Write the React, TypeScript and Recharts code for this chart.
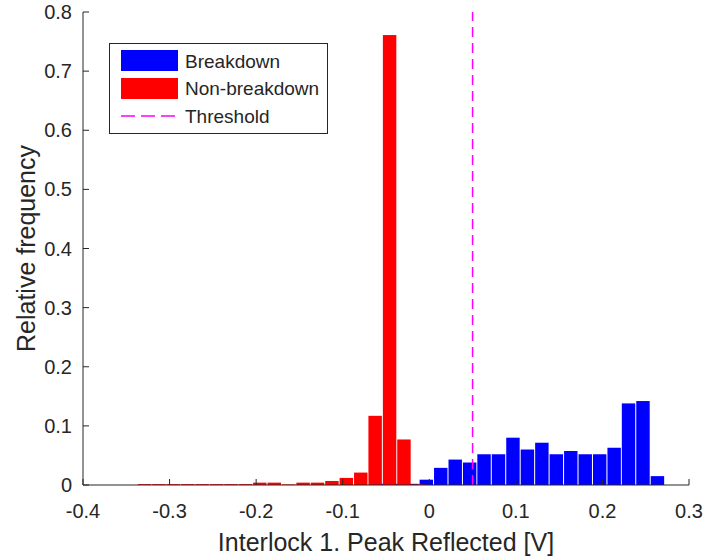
import { ComposedChart, Bar, XAxis, YAxis, ReferenceLine, Legend, Label } from "recharts";

const FONT = '"Liberation Sans", Arial, Helvetica, sans-serif';
const INK = "#262626";
const BLUE = "#0000ff";
const RED = "#ff0000";
const MAGENTA = "#ff00ff";

// axis ticks
const X_TICKS = [-0.4, -0.3, -0.2, -0.1, 0, 0.1, 0.2, 0.3];
const Y_TICKS = [0, 0.1, 0.2, 0.3, 0.4, 0.5, 0.6, 0.7, 0.8];

// histogram bin centres and relative frequencies
const nonBreakdownCenters = [
  -0.3288, -0.3121, -0.2955, -0.2788, -0.2622, -0.2455, -0.2289, -0.2122, -0.1956, -0.1789,
  -0.1623, -0.1456, -0.129, -0.1123, -0.0957, -0.079, -0.0624, -0.0457, -0.0291, -0.0124,
];
const nonBreakdownFreq = [
  0.0015, 0.0015, 0.0015, 0.0015, 0.0015, 0.0015, 0.0015, 0.0015, 0.004, 0.004,
  0.001, 0.004, 0.004, 0.0068, 0.012, 0.021, 0.117, 0.761, 0.077, 0.001,
];

const breakdownCenters = [
  -0.0534, -0.0367, -0.02, -0.0033, 0.0134, 0.0301, 0.0468, 0.0634, 0.0801, 0.0968,
  0.1135, 0.1302, 0.1469, 0.1636, 0.1803, 0.197, 0.2137, 0.2303, 0.247, 0.2637,
];
const breakdownFreq = [
  0.002, 0.002, 0.002, 0.009, 0.029, 0.043, 0.038, 0.052, 0.052, 0.08,
  0.06, 0.0715, 0.052, 0.0575, 0.052, 0.052, 0.063, 0.138, 0.142, 0.015,
];

const THRESHOLD = 0.05;
const BIN_WIDTH = 0.01667;
const SERIES_NAMES = ["Breakdown", "Non-breakdown", "Threshold"];

// layout
const W = 707;
const H = 560;
const LEFT = 83;
const RIGHT = 18;
const TOP = 12;
const BOTTOM = 75;
const X_MIN = -0.4;
const X_MAX = 0.3;
const BIN_PX = (BIN_WIDTH / (X_MAX - X_MIN)) * (W - LEFT - RIGHT);
const LABEL_SIZE = 25;

const rows = [
  ...breakdownCenters.map((x, i) => ({ x, breakdown: breakdownFreq[i] })),
  ...nonBreakdownCenters.map((x, i) => ({ x, nonBreakdown: nonBreakdownFreq[i] })),
].sort((a, b) => a.x - b.x);

function HistBar(props: any) {
  const { x, y, width, height, fill } = props;
  if (!height || height <= 0 || !isFinite(x) || !isFinite(y)) return <g />;
  const cx = x + width / 2;
  return (
    <rect
      x={cx - BIN_PX / 2 + 0.5}
      y={y}
      width={BIN_PX - 1}
      height={height}
      fill={fill}
    />
  );
}

function LegendBox() {
  return (
    <svg width={219} height={91} style={{ display: "block" }}>
      <rect x={0.5} y={0.5} width={218} height={90} fill="#fff" stroke={INK} strokeWidth={1} />
      <rect x={12} y={7} width={57} height={21} fill={BLUE} />
      <rect x={12} y={35} width={57} height={21} fill={RED} />
      <line x1={12} x2={69} y1={73} y2={73} stroke={MAGENTA} strokeWidth={1.5} strokeDasharray="14 6" />
      {SERIES_NAMES.map((n, i) => (
        <text
          key={n}
          x={76}
          y={18 + i * 27.5}
          dominantBaseline="central"
          fontFamily={FONT}
          fontSize={19}
          fill={INK}
        >
          {n}
        </text>
      ))}
    </svg>
  );
}

function YTitle(props: any) {
  const vb = props.viewBox || { y: TOP, height: H - TOP - BOTTOM };
  const cx = 26;
  const cy = vb.y + vb.height / 2;
  return (
    <text
      x={cx}
      y={cy}
      transform={`rotate(-90 ${cx} ${cy})`}
      textAnchor="middle"
      dominantBaseline="central"
      fontFamily={FONT}
      fontSize={LABEL_SIZE}
      fill={INK}
    >
      Relative frequency
    </text>
  );
}

export default function App() {
  const tickStyle = { fill: INK, fontSize: 20, fontFamily: FONT };
  return (
    <div style={{ position: "absolute", left: 0, top: 0, background: "#fff" }}>
      <ComposedChart
        width={W}
        height={H}
        data={rows}
        margin={{ top: TOP, right: RIGHT, bottom: 0, left: 0 }}
      >
        <XAxis
          dataKey="x"
          type="number"
          domain={[X_MIN, X_MAX]}
          ticks={X_TICKS}
          interval={0}
          height={BOTTOM}
          stroke={INK}
          tickSize={-6}
          tickMargin={25}
          tick={tickStyle}
          tickFormatter={(v: number) => String(v)}
          allowDataOverflow
        >
          <Label
            value="Interlock 1. Peak Reflected [V]"
            position="insideBottom"
            offset={9}
            fill={INK}
            fontSize={LABEL_SIZE}
            fontFamily={FONT}
          />
        </XAxis>
        <XAxis
          xAxisId="top"
          orientation="top"
          dataKey="x"
          type="number"
          domain={[X_MIN, X_MAX]}
          ticks={X_TICKS}
          interval={0}
          height={0}
          stroke={INK}
          tickSize={-6}
          tickFormatter={() => ""}
          allowDataOverflow
        />
        <YAxis
          type="number"
          domain={[0, 0.8]}
          ticks={Y_TICKS}
          interval={0}
          width={LEFT}
          stroke={INK}
          tickSize={-6}
          tickMargin={17}
          tick={tickStyle}
          tickFormatter={(v: number) => String(v)}
          allowDataOverflow
        >
          <Label content={YTitle} />
        </YAxis>
        <YAxis
          yAxisId="right"
          orientation="right"
          type="number"
          domain={[0, 0.8]}
          ticks={Y_TICKS}
          interval={0}
          width={0}
          stroke={INK}
          tickSize={-6}
          tickFormatter={() => ""}
          allowDataOverflow
        />
        <Legend
          layout="horizontal"
          verticalAlign="middle"
          align="center"
          content={LegendBox}
          wrapperStyle={{ left: 109, top: 43, width: 219, height: 91 }}
        />
        <Bar
          dataKey="breakdown"
          name={SERIES_NAMES[0]}
          stackId="h"
          fill={BLUE}
          shape={HistBar}
          isAnimationActive={false}
        />
        <Bar
          dataKey="nonBreakdown"
          name={SERIES_NAMES[1]}
          stackId="h"
          fill={RED}
          shape={HistBar}
          isAnimationActive={false}
        />
        <ReferenceLine
          x={THRESHOLD}
          stroke={MAGENTA}
          strokeWidth={1.5}
          strokeDasharray="10 6"
        />
      </ComposedChart>
    </div>
  );
}
